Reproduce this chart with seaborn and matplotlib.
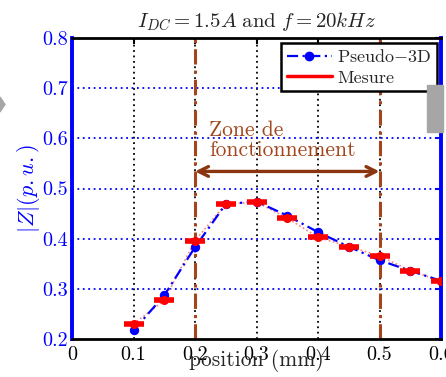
import matplotlib
matplotlib.use("Agg")
import matplotlib.pyplot as plt
import seaborn as sns
import pandas as pd
from matplotlib.lines import Line2D
from matplotlib.patches import Rectangle, Polygon

# ---- data ----
position = [0.10, 0.15, 0.20, 0.25, 0.30, 0.35, 0.40, 0.45, 0.50, 0.55, 0.60]
pseudo_3d = [0.217, 0.287, 0.383, 0.469, 0.474, 0.446, 0.413, 0.384, 0.357, 0.336, 0.316]
mesure = [0.230, 0.277, 0.396, 0.469, 0.473, 0.441, 0.403, 0.384, 0.366, 0.336, 0.316]
zone_bounds = [0.2, 0.5]
x_ticks = [0, 0.1, 0.2, 0.3, 0.4, 0.5, 0.6]
y_ticks = [0.2, 0.3, 0.4, 0.5, 0.6, 0.7, 0.8]

sns.set_style("white")
plt.rcParams["font.family"] = ["cmr10", "DejaVu Serif"]
plt.rcParams["mathtext.fontset"] = "cm"
plt.rcParams["axes.formatter.use_mathtext"] = True

df = pd.DataFrame({"position": position, "Pseudo-3D": pseudo_3d, "Mesure": mesure})

fig = plt.figure(figsize=(4.46, 3.77), dpi=100)
ax = fig.add_axes([72 / 446, 38 / 377, (441 - 72) / 446, (339 - 38) / 377])

BLUE = "#0000ff"
BROWN = "#a3461c"

# grid
for xv in x_ticks[1:-1]:
    ax.axvline(xv, color="black", ls=(0, (1, 2)), lw=1.3, zorder=1)
for yv in y_ticks[1:-1]:
    ax.axhline(yv, color=BLUE, ls=(0, (1, 2)), lw=1.3, zorder=1)

# zone lines
for xv in zone_bounds:
    ax.axvline(xv, color=BROWN, ls=(0, (5, 2, 1, 2)), lw=2.2, zorder=2)

# red measurement
sns.lineplot(data=df, x="position", y="Mesure", ax=ax, color="#ff8080",
             lw=1.2, ls=(0, (1, 1.5)), zorder=3, legend=False)
ax.plot(df["position"], df["Mesure"], ls="none", marker="_", ms=14, mew=4,
        color="red", zorder=5)
ax.plot(df["position"], df["Mesure"], ls="none", marker="o", ms=5.5,
        color="red", zorder=5)

# blue pseudo-3D
sns.lineplot(data=df, x="position", y="Pseudo-3D", ax=ax, color=BLUE,
             lw=1.6, ls=(0, (5, 2, 1, 2)), marker="o", markersize=6,
             markeredgecolor=BLUE, zorder=4, legend=False)

# arrow and text
ax.annotate("", xy=(zone_bounds[0], 0.534), xytext=(zone_bounds[1], 0.534),
            arrowprops=dict(arrowstyle="<->, head_length=0.7, head_width=0.35",
                            color="#8b3510", lw=2.4, shrinkA=0, shrinkB=0),
            zorder=6)
ax.text(0.223, 0.556, "Zone de\nfonctionnement", color=BROWN, fontsize=15.5,
        ha="left", va="bottom", linespacing=1.08, zorder=6)

ax.set_xlim(0, 0.6)
ax.set_ylim(0.2, 0.8)
ax.set_xticks(x_ticks)
ax.set_yticks(y_ticks)
ax.set_xticklabels(["0", "0.1", "0.2", "0.3", "0.4", "0.5", "0.6"])
ax.set_yticklabels(["0.2", "0.3", "0.4", "0.5", "0.6", "0.7", "0.8"])

ax.tick_params(axis="both", direction="in", length=4, width=1.5,
               top=True, right=True, labelsize=14.5)
ax.tick_params(axis="x", colors="black", pad=5)
ax.tick_params(axis="y", colors=BLUE, pad=3)

for side in ["left", "right"]:
    ax.spines[side].set_color(BLUE)
    ax.spines[side].set_linewidth(2.8)
for side in ["top", "bottom"]:
    ax.spines[side].set_color("black")
    ax.spines[side].set_linewidth(2.0)

ax.set_xlabel("position (mm)", fontsize=15.5, labelpad=-11)
ax.set_ylabel(r"$|Z|(p.u.)$", fontsize=16, color=BLUE, labelpad=0)
ax.set_title(r"$I_{DC}=1.5A\ \mathrm{and}\ f=20kHz$", fontsize=15, pad=8)

handles = [
    Line2D([], [], color=BLUE, lw=1.6, ls=(0, (5, 2, 1, 2)), marker="o", ms=6),
    Line2D([], [], color="red", lw=2.5),
]
leg = ax.legend(handles, [r"Pseudo$-$3D", "Mesure"], loc="upper right",
                bbox_to_anchor=(437 / 446, 1 - 43 / 377),
                bbox_transform=fig.transFigure, fontsize=13,
                frameon=True, fancybox=False, framealpha=1, edgecolor="black",
                borderpad=0.3, handlelength=2.5, handletextpad=0.3,
                labelspacing=0.25, borderaxespad=0)
leg.get_frame().set_linewidth(1.8)
leg.set_zorder(10)

# cropping artefacts from the source image
fig.patches.append(Rectangle((427 / 446, 1 - 132 / 377), 16 / 446, 47 / 377,
                             transform=fig.transFigure, color="#a6a6a6",
                             zorder=20))
fig.patches.append(Polygon([(0, 1 - 97 / 377), (5 / 446, 1 - 104.5 / 377),
                            (0, 1 - 112 / 377)], closed=True,
                           transform=fig.transFigure, color="#a6a6a6",
                           zorder=20))

fig.savefig("out.png", dpi=100)
